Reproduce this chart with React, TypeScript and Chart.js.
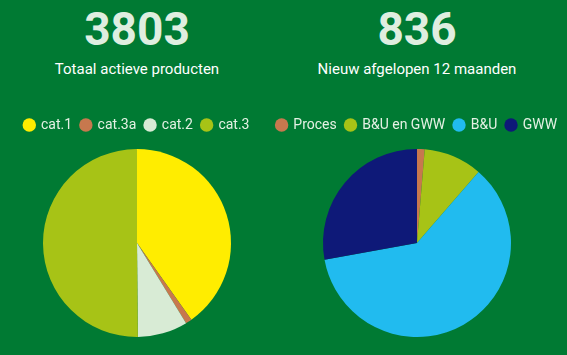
import React, { useEffect, useRef } from "react";
import { Chart, registerables } from "chart.js";

Chart.register(...registerables);

const leftLabels = ["cat.1", "cat.3a", "cat.2", "cat.3"];
const leftValues = [1528, 41, 327, 1907];
const leftColors = ["#ffed00", "#c7784e", "#d8ebd5", "#a7c316"];

const rightLabels = ["Proces", "B&U en GWW", "B&U", "GWW"];
const rightValues = [11, 84, 508, 233];
const rightColors = ["#c7784e", "#a7c316", "#21bbef", "#0e1978"];

const totals = ["3803", "836"];
const subtitles = ["Totaal actieve producten", "Nieuw afgelopen 12 maanden"];

const BG = "#007a33";
const FONT = "Roboto, 'Open Sans', sans-serif";

const legendGap = {
  id: "legendGap",
  beforeInit(chart: any) {
    const legend = chart.legend;
    if (!legend) return;
    const origFit = legend.fit;
    legend.fit = function () {
      origFit.call(this);
      this.height += 7;
    };
  },
};

function Pie({ labels, values, colors }: { labels: string[]; values: number[]; colors: string[] }) {
  const ref = useRef<HTMLCanvasElement | null>(null);
  useEffect(() => {
    if (!ref.current) return;
    const chart = new Chart(ref.current, {
      type: "pie",
      data: {
        labels,
        datasets: [
          {
            data: values,
            backgroundColor: colors,
            borderWidth: 0,
          },
        ],
      },
      options: {
        animation: false,
        responsive: false,
        maintainAspectRatio: false,
        layout: { padding: 0 },
        plugins: {
          legend: {
            position: "top",
            labels: {
              usePointStyle: true,
              pointStyle: "circle",
              boxWidth: 9.5,
              boxHeight: 9.5,
              padding: 9,
              color: "#e4f1e4",
              font: { family: FONT, size: 14 },
            },
          },
          tooltip: { enabled: false },
        },
      },
      plugins: [legendGap],
    });
    return () => chart.destroy();
  }, []);
  return <canvas ref={ref} width={320} height={228} style={{ display: "block", width: 320, height: 228 }} />;
}

export default function App() {
  const cols = [
    { center: 137, labels: leftLabels, values: leftValues, colors: leftColors },
    { center: 417, labels: rightLabels, values: rightValues, colors: rightColors },
  ];
  return (
    <div
      style={{
        position: "fixed",
        left: 0,
        top: 0,
        width: 567,
        height: 355,
        background: BG,
        overflow: "hidden",
        fontFamily: FONT,
      }}
    >
      {cols.map((c, i) => (
        <React.Fragment key={i}>
          <div
            style={{
              position: "absolute",
              left: c.center - 140,
              top: 3,
              width: 280,
              textAlign: "center",
              fontSize: 46,
              fontWeight: 700,
              color: "#dfeee0",
              lineHeight: "52px",
            }}
          >
            {totals[i]}
          </div>
          <div
            style={{
              position: "absolute",
              left: c.center - 140,
              top: 59,
              width: 280,
              textAlign: "center",
              fontSize: 15,
              color: "#ffffff",
              lineHeight: "20px",
            }}
          >
            {subtitles[i]}
          </div>
          <div style={{ position: "absolute", top: 109, left: c.center - 160 }}>
            <Pie labels={c.labels} values={c.values} colors={c.colors} />
          </div>
        </React.Fragment>
      ))}
    </div>
  );
}
